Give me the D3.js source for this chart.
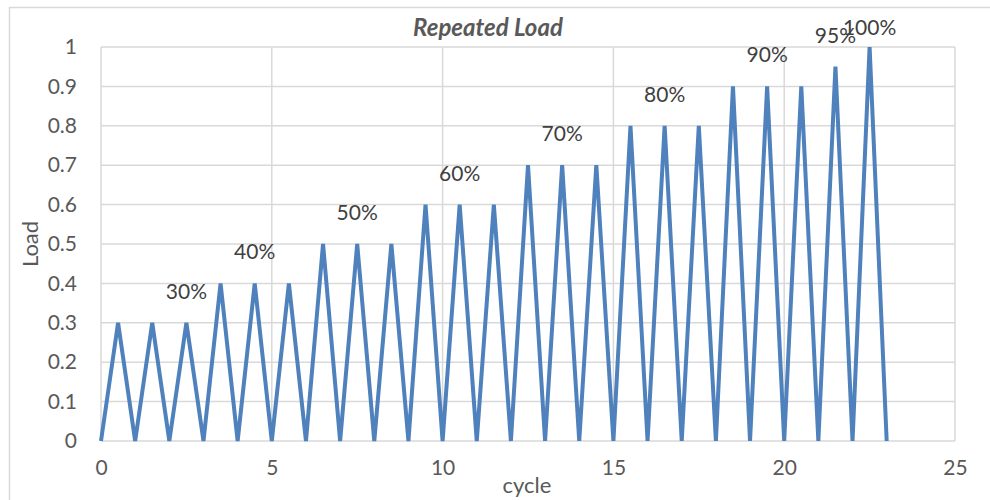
<!DOCTYPE html>
<html>
<head>
<meta charset="utf-8">
<script src="https://cdn.jsdelivr.net/npm/d3@7"></script>
<style>
  body { margin: 0; background: #fff; }
  text { font-family: Lato, "Open Sans", sans-serif; }
</style>
</head>
<body>
<div id="chart"></div>
<script>
// Load path: every half cycle goes up to the peak and back to 0
const cycle = [0, 0.5, 1, 1.5, 2, 2.5, 3, 3.5, 4, 4.5, 5, 5.5, 6, 6.5, 7, 7.5, 8, 8.5, 9,
  9.5, 10, 10.5, 11, 11.5, 12, 12.5, 13, 13.5, 14, 14.5, 15, 15.5, 16, 16.5, 17, 17.5, 18,
  18.5, 19, 19.5, 20, 20.5, 21, 21.5, 22, 22.5, 23];
const load = [0, 0.3, 0, 0.3, 0, 0.3, 0, 0.4, 0, 0.4, 0, 0.4, 0, 0.5, 0, 0.5, 0, 0.5, 0,
  0.6, 0, 0.6, 0, 0.6, 0, 0.7, 0, 0.7, 0, 0.7, 0, 0.8, 0, 0.8, 0, 0.8, 0,
  0.9, 0, 0.9, 0, 0.9, 0, 0.95, 0, 1, 0];

// Data labels sit over one peak of each load level
const labelCycle = [2.5, 4.5, 7.5, 10.5, 13.5, 16.5, 19.5, 21.5, 22.5];
const labelLoad = [0.3, 0.4, 0.5, 0.6, 0.7, 0.8, 0.9, 0.95, 1];
const labelText = ["30%", "40%", "50%", "60%", "70%", "80%", "90%", "95%", "100%"];

const xTicks = [0, 5, 10, 15, 20, 25];
const yTicks = [0, 0.1, 0.2, 0.3, 0.4, 0.5, 0.6, 0.7, 0.8, 0.9, 1];

const W = 990, H = 500;
const plot = { left: 101, right: 955, top: 47, bottom: 441 };

const svg = d3.select("#chart").append("svg")
  .attr("width", W)
  .attr("height", H);

// chart frame
svg.append("path")
  .attr("d", `M9.5,${H} V7.5 H${W}`)
  .attr("fill", "none")
  .attr("stroke", "#d9d9d9")
  .attr("stroke-width", 1.5);

const x = d3.scaleLinear().domain([0, 25]).range([plot.left, plot.right]);
const y = d3.scaleLinear().domain([0, 1]).range([plot.bottom, plot.top]);

// gridlines
svg.append("g")
  .selectAll("line.h")
  .data(yTicks)
  .enter().append("line")
  .attr("x1", plot.left).attr("x2", plot.right)
  .attr("y1", d => y(d)).attr("y2", d => y(d))
  .attr("stroke", "#d9d9d9")
  .attr("stroke-width", 1.5);

svg.append("g")
  .selectAll("line.v")
  .data(xTicks)
  .enter().append("line")
  .attr("y1", plot.top).attr("y2", plot.bottom)
  .attr("x1", d => x(d)).attr("x2", d => x(d))
  .attr("stroke", "#d9d9d9")
  .attr("stroke-width", 1.5);

// axes (labels only, Excel style)
const yAxis = svg.append("g")
  .attr("transform", `translate(${plot.left},0)`)
  .call(d3.axisLeft(y).tickValues(yTicks).tickSize(0).tickPadding(24).tickFormat(d => d3.format("~g")(d)));
yAxis.select(".domain").remove();
yAxis.selectAll("text")
  .attr("fill", "#595959")
  .style("font-size", "21px")
  .style("font-family", "Lato, sans-serif");

const xAxis = svg.append("g")
  .attr("transform", `translate(0,${plot.bottom})`)
  .call(d3.axisBottom(x).tickValues(xTicks).tickSize(0).tickPadding(19));
xAxis.select(".domain").remove();
xAxis.selectAll("text")
  .attr("fill", "#595959")
  .style("font-size", "21px")
  .style("font-family", "Lato, sans-serif");

// line
const line = d3.line()
  .x((d, i) => x(cycle[i]))
  .y(d => y(d));

svg.append("path")
  .datum(load)
  .attr("d", line)
  .attr("fill", "none")
  .attr("stroke", "#4f81bd")
  .attr("stroke-width", 4)
  .attr("stroke-linejoin", "miter");

// data labels (kept inside the chart frame at the top, like Excel does)
svg.append("g")
  .selectAll("text")
  .data(labelText)
  .enter().append("text")
  .attr("x", (d, i) => x(labelCycle[i]))
  .attr("y", (d, i) => Math.max(y(labelLoad[i]) - 24, 35))
  .attr("text-anchor", "middle")
  .attr("fill", "#404040")
  .style("font-size", "21px")
  .text(d => d);

// title
svg.append("text")
  .attr("x", 488)
  .attr("y", 36)
  .attr("text-anchor", "middle")
  .attr("fill", "#595959")
  .style("font-size", "24px")
  .style("font-weight", "bold")
  .style("font-style", "italic")
  .text("Repeated Load");

// axis titles
svg.append("text")
  .attr("x", 527)
  .attr("y", 493)
  .attr("text-anchor", "middle")
  .attr("fill", "#595959")
  .style("font-size", "22px")
  .text("cycle");

svg.append("text")
  .attr("transform", "translate(38,244) rotate(-90)")
  .attr("text-anchor", "middle")
  .attr("fill", "#595959")
  .style("font-size", "22px")
  .text("Load");
</script>
</body>
</html>
